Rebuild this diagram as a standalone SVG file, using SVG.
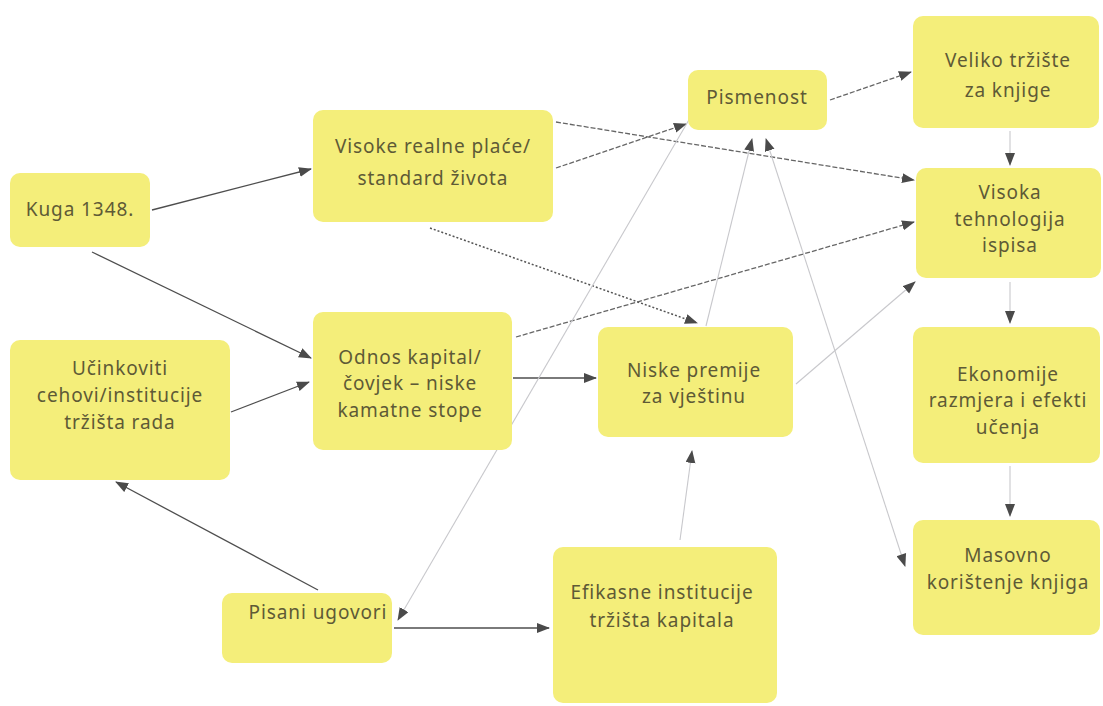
<svg xmlns="http://www.w3.org/2000/svg" width="1103" height="706" viewBox="0 0 1103 706">
<style>
.box{fill:#f4ee7a;}
.t{font-family:"Noto Sans","Liberation Sans",sans-serif;font-size:19px;letter-spacing:0.9px;fill:#5e5a36;text-anchor:middle;}
.c{fill:none;stroke:#4e4e4e;stroke-width:1.3;}
.d{fill:none;stroke:#666;stroke-width:1.3;stroke-dasharray:5 2;}
.o{fill:none;stroke:#555;stroke-width:1.5;stroke-dasharray:2 2;}
.f{fill:none;stroke:#c8c8cc;stroke-width:1.1;}
</style>
<defs>
<marker id="a" markerUnits="userSpaceOnUse" markerWidth="14" markerHeight="12" refX="12" refY="5" orient="auto">
<path d="M0,0 L13,5 L0,10 z" fill="#4a4a4a"/>
</marker>
<marker id="s" markerUnits="userSpaceOnUse" markerWidth="14" markerHeight="12" refX="1" refY="5" orient="auto">
<path d="M13,0 L0,5 L13,10 z" fill="#4a4a4a"/>
</marker>
</defs>
<rect width="1103" height="706" fill="#ffffff"/>
<g id="connectors">
<line class="c" x1="152" y1="210" x2="311" y2="169" marker-end="url(#a)"/>
<line class="c" x1="92" y1="252" x2="311" y2="358" marker-end="url(#a)"/>
<line class="c" x1="231" y1="412" x2="309" y2="382" marker-end="url(#a)"/>
<line class="d" x1="556" y1="168" x2="686" y2="124" marker-end="url(#a)"/>
<line class="d" x1="556" y1="122" x2="914" y2="180" marker-end="url(#a)"/>
<line class="o" x1="430" y1="228" x2="697" y2="323" marker-end="url(#a)"/>
<line class="c" x1="513" y1="378" x2="596" y2="378" marker-end="url(#a)"/>
<line class="d" x1="516" y1="337" x2="914" y2="222" marker-end="url(#a)"/>
<line class="f" x1="796" y1="384" x2="915" y2="282" marker-end="url(#a)"/>
<line class="d" x1="830" y1="100" x2="911" y2="72" marker-end="url(#a)"/>
<line class="f" x1="1010" y1="131" x2="1010" y2="165" marker-end="url(#a)"/>
<line class="f" x1="1010" y1="282" x2="1010" y2="323" marker-end="url(#a)"/>
<line class="f" x1="1010" y1="466" x2="1010" y2="516" marker-end="url(#a)"/>
<line class="c" x1="318" y1="590" x2="116" y2="482" marker-end="url(#a)"/>
<line class="c" x1="394" y1="628" x2="549" y2="628" marker-end="url(#a)"/>
<line class="f" x1="680" y1="540" x2="692" y2="451" marker-end="url(#a)"/>
<line class="f" x1="690" y1="118" x2="398" y2="620" marker-end="url(#a)"/>
<line class="f" x1="706" y1="326" x2="752" y2="139" marker-end="url(#a)"/>
<line class="f" x1="905" y1="566" x2="766" y2="139" marker-start="url(#s)" marker-end="url(#a)"/>
</g>
<g id="kuga"><rect class="box" x="10" y="173" width="140" height="74" rx="10"/><text class="t" x="80" y="216">Kuga 1348.</text></g>
<g id="visoke-place"><rect class="box" x="313" y="110" width="240" height="112" rx="10"/><text class="t" x="433" y="153">Visoke realne plaće/</text><text class="t" x="433" y="185">standard života</text></g>
<g id="pismenost"><rect class="box" x="688" y="70" width="139" height="60" rx="10"/><text class="t" x="757" y="104">Pismenost</text></g>
<g id="veliko-trziste"><rect class="box" x="913" y="16" width="186" height="112" rx="10"/><text class="t" x="1008" y="67">Veliko tržište</text><text class="t" x="1008" y="97">za knjige</text></g>
<g id="visoka-tehnologija"><rect class="box" x="916" y="168" width="185" height="110" rx="10"/><text class="t" x="1010" y="199">Visoka</text><text class="t" x="1010" y="226">tehnologija</text><text class="t" x="1010" y="252">ispisa</text></g>
<g id="ucinkoviti"><rect class="box" x="10" y="340" width="220" height="140" rx="10"/><text class="t" x="120" y="375">Učinkoviti</text><text class="t" x="120" y="402">cehovi/institucije</text><text class="t" x="120" y="429">tržišta rada</text></g>
<g id="odnos"><rect class="box" x="313" y="312" width="199" height="138" rx="10"/><text class="t" x="410" y="364">Odnos kapital/</text><text class="t" x="410" y="390">čovjek – niske</text><text class="t" x="410" y="417">kamatne stope</text></g>
<g id="niske-premije"><rect class="box" x="598" y="327" width="195" height="110" rx="10"/><text class="t" x="694" y="377">Niske premije</text><text class="t" x="694" y="403">za vještinu</text></g>
<g id="ekonomije"><rect class="box" x="913" y="327" width="187" height="136" rx="10"/><text class="t" x="1008" y="381">Ekonomije</text><text class="t" x="1008" y="407">razmjera i efekti</text><text class="t" x="1008" y="434">učenja</text></g>
<g id="masovno"><rect class="box" x="913" y="520" width="187" height="115" rx="10"/><text class="t" x="1008" y="562">Masovno</text><text class="t" x="1008" y="589">korištenje knjiga</text></g>
<g id="pisani-ugovori"><rect class="box" x="222" y="593" width="170" height="70" rx="10"/><text class="t" x="318" y="619">Pisani ugovori</text></g>
<g id="efikasne"><rect class="box" x="553" y="547" width="224" height="156" rx="10"/><text class="t" x="662" y="599">Efikasne institucije</text><text class="t" x="662" y="627">tržišta kapitala</text></g>
</svg>
